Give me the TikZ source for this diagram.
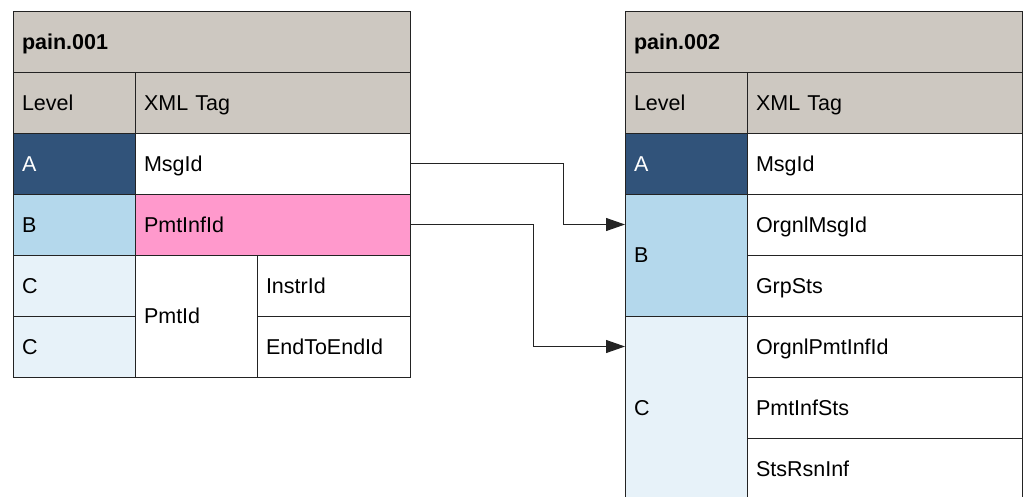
\documentclass[tikz,border=0pt]{standalone}
\usepackage{fontspec}
\setmainfont{Liberation Sans}
\usetikzlibrary{arrows.meta}

\definecolor{hdrgray}{RGB}{205,200,193}
\definecolor{lvlA}{RGB}{49,83,122}
\definecolor{lvlB}{RGB}{180,216,236}
\definecolor{lvlC}{RGB}{231,242,249}
\definecolor{pinkfill}{RGB}{255,153,204}
\definecolor{linegray}{RGB}{35,35,35}

\tikzset{
  cell/.style={draw=linegray, line width=1pt, anchor=north west, inner xsep=9pt, inner ysep=0pt,
    outer sep=0pt, align=left, minimum height=61pt, text height=20pt, text depth=4.6pt,
    font=\fontsize{21.5}{25}\selectfont},
  titlecell/.style={cell, text width=379pt, fill=hdrgray, font=\fontsize{21.5}{25}\selectfont\bfseries},
  lvlcell/.style={cell, text width=104pt},
  tagcell/.style={cell, text width=257pt, fill=white},
  halfcell/.style={cell, text width=104pt, fill=white},
  subcell/.style={cell, text width=135pt, fill=white},
  link/.style={draw=linegray, line width=1pt, -{Triangle[length=19pt, width=13pt]}}
}

\begin{document}
\begin{tikzpicture}[x=1pt, y=-1pt]
    \useasboundingbox (0,0) rectangle (1025,496);

    % pain.001 table
    \node[titlecell] at (13, 11) (lTitle) {pain.001};
    \node[lvlcell, fill=hdrgray] at (13, 72) (lLevel) {Level};
    \node[tagcell, fill=hdrgray] at (135, 72) (lTag) {XML Tag};
    \node[lvlcell, fill=lvlA, text=white] at (13, 133) (lA) {A};
    \node[tagcell] at (135, 133) (lMsg) {MsgId};
    \node[lvlcell, fill=lvlB] at (13, 194) (lB) {B};
    \node[tagcell, fill=pinkfill] at (135, 194) (lPmtInf) {PmtInfId};
    \node[lvlcell, fill=lvlC] at (13, 255) (lC1) {C};
    \node[lvlcell, fill=lvlC] at (13, 316) (lC2) {C};
    \node[halfcell, minimum height=122pt] at (135, 255) (lPmtId) {PmtId};
    \node[subcell] at (257, 255) (lInstr) {InstrId};
    \node[subcell] at (257, 316) (lEndToEnd) {EndToEndId};

    % pain.002 table
    \node[titlecell] at (625, 11) (rTitle) {pain.002};
    \node[lvlcell, fill=hdrgray] at (625, 72) (rLevel) {Level};
    \node[tagcell, fill=hdrgray] at (747, 72) (rTag) {XML Tag};
    \node[lvlcell, fill=lvlA, text=white] at (625, 133) (rA) {A};
    \node[tagcell] at (747, 133) (rMsg) {MsgId};
    \node[lvlcell, fill=lvlB, minimum height=122pt] at (625, 194) (rB) {B};
    \node[tagcell] at (747, 194) (rOrgMsg) {OrgnlMsgId};
    \node[tagcell] at (747, 255) (rGrpSts) {GrpSts};
    \node[lvlcell, fill=lvlC, minimum height=183pt] at (625, 316) (rC) {C};
    \node[tagcell] at (747, 316) (rOrgPmt) {OrgnlPmtInfId};
    \node[tagcell] at (747, 377) (rPmtSts) {PmtInfSts};
    \node[tagcell] at (747, 438) (rRsn) {StsRsnInf};

    % Mapping arrows
    \draw[link] (lMsg.east) -- ++(153,0) |- (rB.west |- rOrgMsg.west);
    \draw[link] (lPmtInf.east) -- ++(123,0) |- (rC.west |- rOrgPmt.west);
\end{tikzpicture}
\end{document}
